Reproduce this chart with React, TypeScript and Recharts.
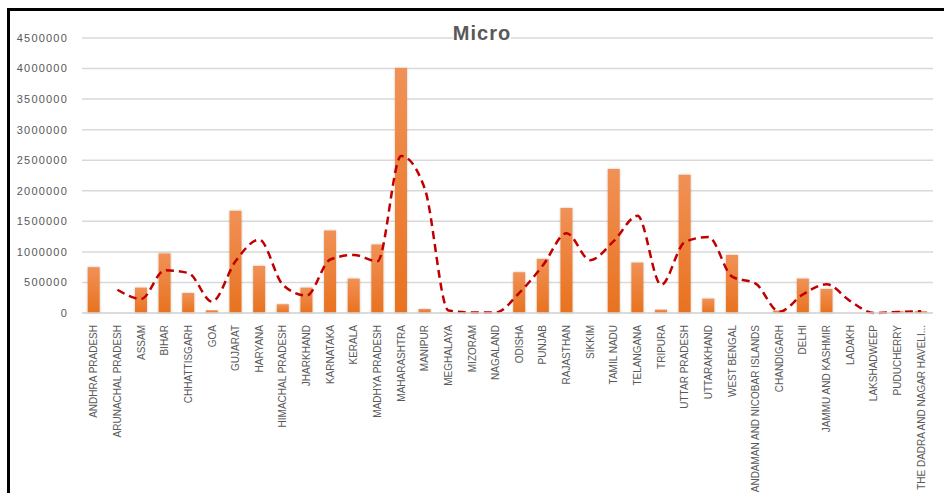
import React from "react"
import { Bar, ComposedChart, Line, XAxis, YAxis, CartesianGrid } from "recharts"

// States / UTs in the order they appear on the axis
const states = [
  "ANDHRA PRADESH",
  "ARUNACHAL PRADESH",
  "ASSAM",
  "BIHAR",
  "CHHATTISGARH",
  "GOA",
  "GUJARAT",
  "HARYANA",
  "HIMACHAL PRADESH",
  "JHARKHAND",
  "KARNATAKA",
  "KERALA",
  "MADHYA PRADESH",
  "MAHARASHTRA",
  "MANIPUR",
  "MEGHALAYA",
  "MIZORAM",
  "NAGALAND",
  "ODISHA",
  "PUNJAB",
  "RAJASTHAN",
  "SIKKIM",
  "TAMIL NADU",
  "TELANGANA",
  "TRIPURA",
  "UTTAR PRADESH",
  "UTTARAKHAND",
  "WEST BENGAL",
  "ANDAMAN AND NICOBAR ISLANDS",
  "CHANDIGARH",
  "DELHI",
  "JAMMU AND KASHMIR",
  "LADAKH",
  "LAKSHADWEEP",
  "PUDUCHERRY",
  "THE DADRA AND NAGAR HAVELI AND DAMAN AND DIU",
]

// Micro enterprises per state
const microUnits = [
  750000, 0, 415000, 975000, 328000, 45000, 1673000, 771000, 143000, 415000,
  1350000, 563000, 1120000, 4010000, 66000, 6000, 8000, 8000, 667000, 886000,
  1717000, 0, 2357000, 825000, 55000, 2263000, 235000, 951000, 0, 40000,
  563000, 394000, 0, 0, 30000, 30000,
]

// 2-period moving average trend
const trendUnits = [
  null, 380000, 230000, 700000, 655000, 186000, 850000, 1200000, 460000, 285000,
  875000, 950000, 845000, 2570000, 2035000, 40000, 8000, 8000, 330000, 780000,
  1305000, 865000, 1180000, 1590000, 460000, 1160000, 1245000, 595000, 480000, 20000,
  305000, 470000, 195000, 0, 15000, 30000,
]

const yTicks = [0, 500000, 1000000, 1500000, 2000000, 2500000, 3000000, 3500000, 4000000, 4500000]

const data = states.map((state, i) => ({
  state,
  micro: microUnits[i],
  trend: trendUnits[i],
}))

const FONT = "'Liberation Sans', Arial, sans-serif"
const TEXT = "#595959"

function StateTick(props: any) {
  const { x, y, payload } = props
  const name: string = payload.value
  const label = name.length > 30 ? name.slice(0, 26) + "..." : name
  return (
    <text
      x={0}
      y={0}
      dy="0.35em"
      textAnchor="end"
      transform={`translate(${x},${y + 4}) rotate(-90)`}
      fill={TEXT}
      fontSize={10}
      fontFamily={FONT}
    >
      {label}
    </text>
  )
}

export default function App() {
  return (
    <div style={{ position: "absolute", left: 0, top: 0, width: 944, height: 493, background: "#fff", overflow: "hidden" }}>
      <div
        style={{
          position: "absolute",
          left: 7,
          top: 8,
          width: 960,
          height: 520,
          borderTop: "3px solid #000",
          borderLeft: "3px solid #000",
          boxSizing: "border-box",
        }}
      />
      <ComposedChart
        width={944}
        height={493}
        data={data}
        margin={{ top: 38, right: 11, bottom: 5, left: 8 }}
        barCategoryGap="24%"
        style={{ position: "absolute", left: 0, top: 0 }}
      >
        <defs>
          <linearGradient id="barFill" x1="0" y1="0" x2="0" y2="1">
            <stop offset="0%" stopColor="#f19156" />
            <stop offset="100%" stopColor="#e8721f" />
          </linearGradient>
          <filter id="barShadow" x="-30%" y="-5%" width="160%" height="110%">
            <feDropShadow dx="0" dy="0" stdDeviation="1.2" floodColor="#000" floodOpacity="0.25" />
          </filter>
        </defs>
        <CartesianGrid vertical={false} stroke="#d9d9d9" strokeWidth={1.5} />
        <XAxis
          dataKey="state"
          interval={0}
          height={175}
          tick={<StateTick />}
          tickLine={false}
          axisLine={{ stroke: "#d9d9d9", strokeWidth: 1.5 }}
        />
        <YAxis
          width={74}
          domain={[0, 4500000]}
          ticks={yTicks}
          interval={0}
          tickLine={false}
          axisLine={false}
          tickSize={0}
          tickMargin={14}
          tick={{ fill: TEXT, fontSize: 11, fontFamily: FONT, letterSpacing: 1.2 }}
        />
        <Bar dataKey="micro" fill="url(#barFill)" filter="url(#barShadow)" isAnimationActive={false} />
        <Line
          dataKey="trend"
          type="monotone"
          stroke="#c00000"
          strokeWidth={2.5}
          strokeDasharray="8 5"
          dot={false}
          activeDot={false}
          isAnimationActive={false}
        />
      </ComposedChart>
      <span
        style={{
          position: "absolute",
          left: 482,
          top: 23,
          transform: "translateX(-50%)",
          background: "#fff",
          color: TEXT,
          fontFamily: FONT,
          fontWeight: 700,
          fontSize: 20,
          lineHeight: "20px",
          letterSpacing: 1,
        }}
      >
        Micro
      </span>
    </div>
  )
}
